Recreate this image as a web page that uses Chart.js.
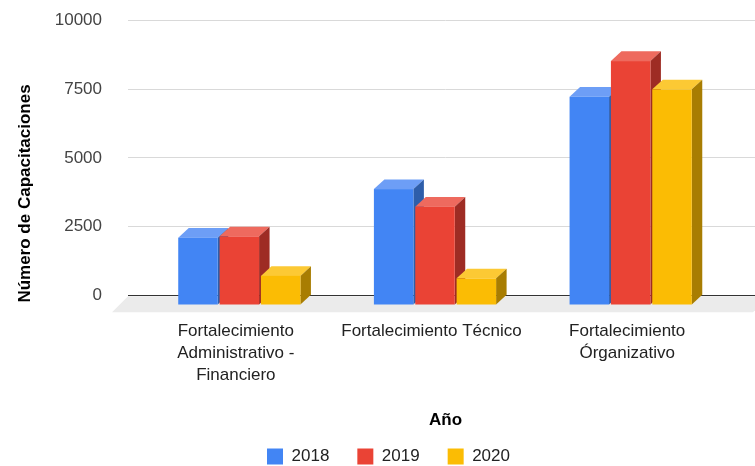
<!DOCTYPE html>
<html>
<head>
<meta charset="utf-8">
<script src="https://cdn.jsdelivr.net/npm/chart.js@4/dist/chart.umd.min.js"></script>
<style>
  html, body { margin: 0; padding: 0; background: #fff; }
</style>
</head>
<body>
<canvas id="capacitacionesChart" width="755" height="466"></canvas>
<script>
// datos
const categories = [
    ["Fortalecimiento", "Administrativo -", "Financiero"],
    ["Fortalecimiento Técnico"],
    ["Fortalecimiento", "Órganizativo"]
];
const years = ["2018", "2019", "2020"];
const values2018 = [2450, 4220, 7580];
const values2019 = [2500, 3580, 8880];
const values2020 = [1060, 970, 7850];
const yTicks = [0, 2500, 5000, 7500, 10000];
const yTitle = "Número de Capacitaciones";
const xTitle = "Año";

const frontColors = ["#4285f4", "#ea4335", "#fbbc04"];
const topColors = ["#6d9ef6", "#ee6a5e", "#fcc934"];
const sideColors = ["#2e5eaa", "#9e2c24", "#a87d02"];

const FONT = "'Liberation Sans', Arial, sans-serif";
const DEPTH_X = 10.5;
const DEPTH_Y = 9.7;

Chart.defaults.font.family = FONT;

function gridColor(c) {
    return c.tick && c.tick.value === 0 ? "#333333" : "#d9d9d9";
}

// barras 3D + piso, dibujadas desde los elementos de Chart.js
const bars3d = {
    id: "bars3d",
    beforeDatasetsDraw(chart) {
        const ctx = chart.ctx;
        const area = chart.chartArea;
        const zero = chart.scales.y.getPixelForValue(0);
        ctx.save();

        ctx.fillStyle = "#ebebeb";
        ctx.beginPath();
        ctx.moveTo(area.left - 24, zero + 1);
        ctx.lineTo(chart.width + 14, zero + 1);
        ctx.lineTo(chart.width - 2, zero + 17);
        ctx.lineTo(area.left - 40, zero + 17);
        ctx.closePath();
        ctx.fill();

        chart.data.datasets.forEach((ds, i) => {
            chart.getDatasetMeta(i).data.forEach(bar => {
                const {x, y, base, width} = bar.getProps(["x", "y", "base", "width"], true);
                const x0 = x - width / 2 - DEPTH_X;
                const x1 = x + width / 2 - DEPTH_X;
                const top = y + DEPTH_Y;
                const bottom = base + DEPTH_Y;

                ctx.fillStyle = topColors[i];
                ctx.beginPath();
                ctx.moveTo(x0, top);
                ctx.lineTo(x1, top);
                ctx.lineTo(x1 + DEPTH_X, y);
                ctx.lineTo(x0 + DEPTH_X, y);
                ctx.closePath();
                ctx.fill();

                ctx.fillStyle = sideColors[i];
                ctx.beginPath();
                ctx.moveTo(x1, top);
                ctx.lineTo(x1 + DEPTH_X, y);
                ctx.lineTo(x1 + DEPTH_X, base);
                ctx.lineTo(x1, bottom);
                ctx.closePath();
                ctx.fill();

                ctx.fillStyle = frontColors[i];
                ctx.fillRect(x0, top, x1 - x0, bottom - top);
            });
        });
        ctx.restore();
        return false;
    },
    afterDraw(chart) {
        const ctx = chart.ctx;
        ctx.save();
        ctx.translate(25.5, 193.5);
        ctx.rotate(-Math.PI / 2);
        ctx.font = "bold 17px " + FONT;
        ctx.fillStyle = "#000";
        ctx.textAlign = "center";
        ctx.textBaseline = "middle";
        ctx.fillText(yTitle, 0, 0);
        ctx.restore();
    }
};

const seriesValues = [values2018, values2019, values2020];

new Chart(document.getElementById("capacitacionesChart"), {
    type: "bar",
    data: {
        labels: categories,
        datasets: years.map((yr, i) => ({
            label: yr,
            data: seriesValues[i],
            backgroundColor: frontColors[i],
            borderWidth: 0
        }))
    },
    options: {
        responsive: false,
        animation: false,
        devicePixelRatio: 1,
        layout: {padding: {left: 22, top: 20.6, right: 0, bottom: 0}},
        datasets: {bar: {categoryPercentage: 0.634, barPercentage: 0.955}},
        scales: {
            x: {
                grid: {display: false, drawTicks: false},
                border: {display: false},
                ticks: {
                    padding: 25,
                    color: "#222",
                    font: {size: 17, lineHeight: 1.3},
                    labelOffset: -14,
                    maxRotation: 0,
                    minRotation: 0,
                    autoSkip: false
                },
                title: {
                    display: true,
                    text: xTitle,
                    color: "#000",
                    font: {size: 17, weight: "bold"},
                    padding: {top: -1, bottom: -11}
                }
            },
            y: {
                min: 0,
                max: 10000,
                afterBuildTicks: s => { s.ticks = yTicks.map(v => ({value: v})); },
                grid: {color: gridColor, tickLength: 24},
                border: {display: false},
                ticks: {padding: 26, color: "#444", font: {size: 17}, callback: v => String(v)},
                afterFit: s => {
                    s.width = 130;
                    s.paddingTop = 0;
                    s.paddingBottom = 0;
                }
            },
            y2: {
                position: "right",
                min: 0,
                max: 10000,
                afterBuildTicks: s => { s.ticks = yTicks.map(v => ({value: v})); },
                grid: {color: gridColor, tickLength: 16, drawOnChartArea: false},
                border: {display: false},
                ticks: {display: false},
                afterFit: s => { s.width = 16; }
            }
        },
        plugins: {
            legend: {
                position: "bottom",
                maxHeight: 46,
                labels: {boxWidth: 16, boxHeight: 16, padding: 28, color: "#222", font: {size: 17}}
            },
            tooltip: {enabled: false}
        }
    },
    plugins: [bars3d]
});
</script>
</body>
</html>
